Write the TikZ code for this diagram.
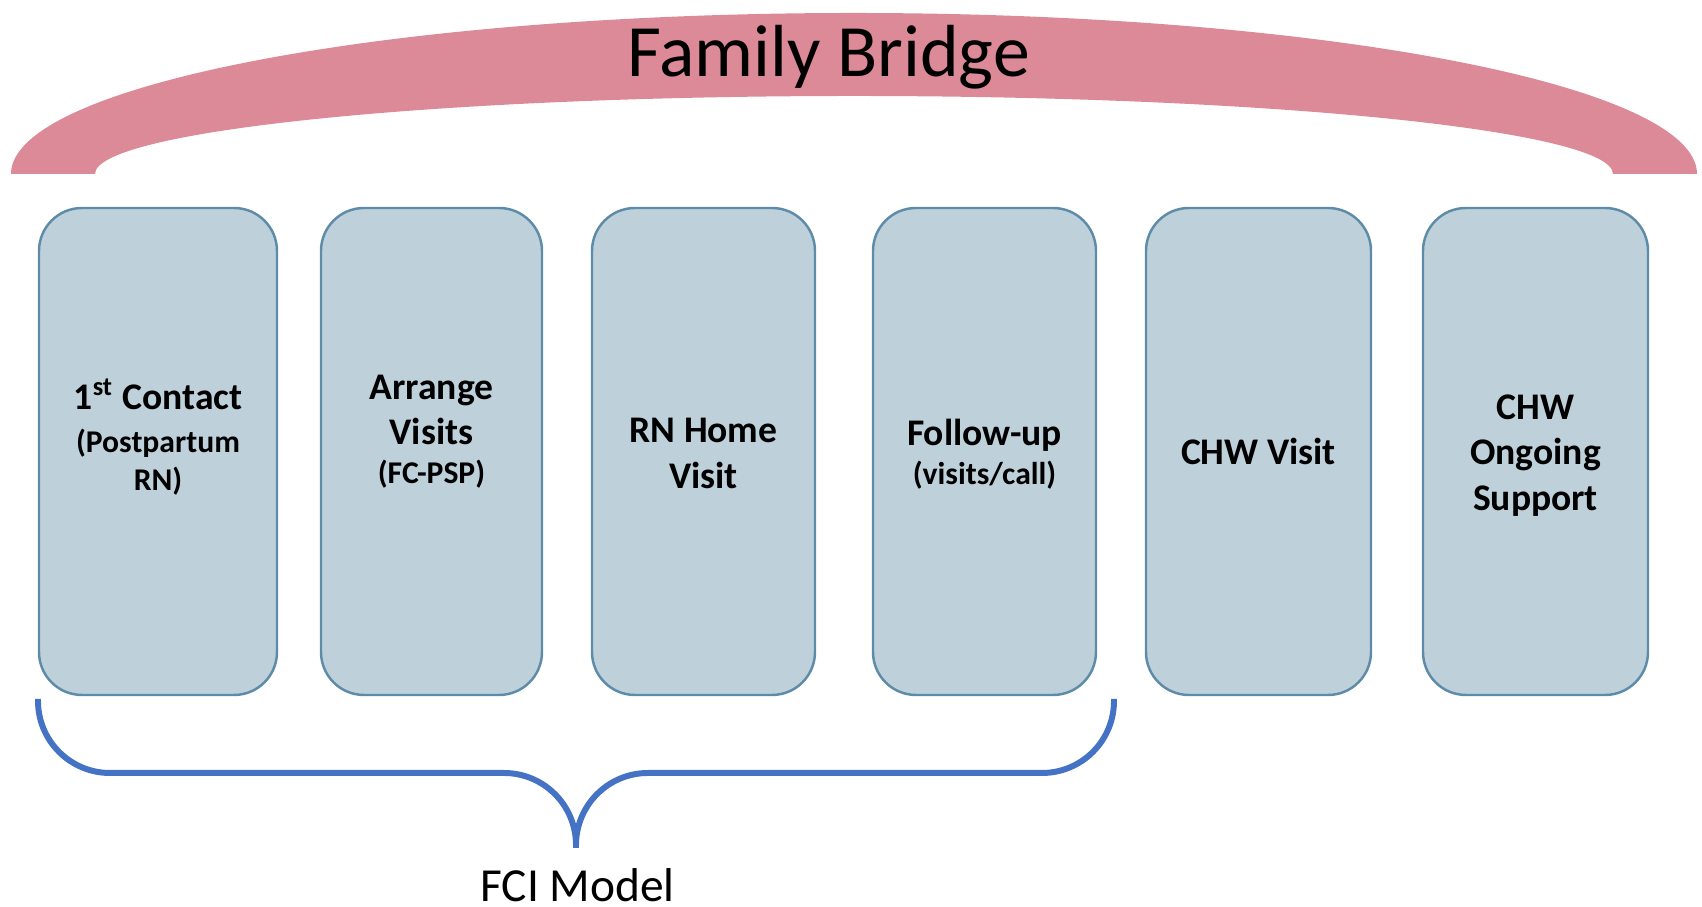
\documentclass[tikz,border=0pt]{standalone}
\usepackage{fontspec}
\setmainfont{Carlito}
\usepackage{tikz}
\usetikzlibrary{positioning}
\definecolor{bridgepink}{RGB}{221,138,152}
\definecolor{stagefill}{RGB}{190,209,219}
\definecolor{stageline}{RGB}{94,140,168}
\definecolor{braceblue}{RGB}{68,114,196}
\tikzstyle{stage} = [rectangle, rounded corners=0.43cm, minimum
    width=2.23cm, minimum height=4.87cm, draw=stageline, fill=stagefill,
line width=0.7pt]
\tikzstyle{stagetext} = [align=center, inner sep=0pt,
font=\bfseries\fontsize{10.7}{13}\selectfont]
\tikzstyle{brace} = [draw=braceblue, line width=1.7pt, rounded corners=0.72cm]
\newcommand{\smalltag}[1]{{\fontsize{9}{11}\selectfont #1}}

\begin{document}
\begin{tikzpicture}
            \useasboundingbox (0,0) rectangle (17.02,9.07);
            % Bridge
            \fill[bridgepink] (0.11,7.33) arc[start angle=180, end angle=0,
            x radius=8.43cm, y radius=1.61cm] -- (16.13,7.33) arc[start
            angle=0, end angle=180, x radius=7.59cm, y radius=0.78cm] -- cycle;
            \node[anchor=base, font=\fontsize{21}{25}\selectfont] (bridge)
            at (8.285,8.30) {Family Bridge};
            % Stages
            \node[stage, minimum width=2.38cm] (contact) at (1.58,4.555) {};
            \node[stage, minimum width=2.21cm, right of=contact, xshift=1.735cm] (arrange) {};
            \node[stage, right of=arrange, xshift=1.72cm] (rnvisit) {};
            \node[stage, right of=rnvisit, xshift=1.81cm] (followup) {};
            \node[stage, minimum width=2.25cm, right of=followup, xshift=1.74cm] (chwvisit) {};
            \node[stage, minimum width=2.25cm, right of=chwvisit, xshift=1.77cm] (chwsupport) {};
            % Stage texts
            \node[stagetext] (contact-text) at ([yshift=0.14cm]contact.center)
            {1\textsuperscript{st} Contact\\[-1pt] \smalltag{(Postpartum}\\[-2pt]
            \smalltag{RN)}};
            \node[stagetext] (arrange-text) at ([yshift=0.2cm]arrange.center)
            {Arrange\\ Visits\\[-2pt] \smalltag{(FC-PSP)}};
            \node[stagetext] (rnvisit-text) at ([yshift=-0.02cm]rnvisit.center)
            {RN Home\\ Visit};
            \node[stagetext] (followup-text) at ([yshift=-0.03cm]followup.center)
            {Follow-up\\[-2pt] \smalltag{(visits/call)}};
            \node[stagetext] (chwvisit-text) at (chwvisit.center) {CHW Visit};
            \node[stagetext] (chwsupport-text) at ([yshift=-0.04cm]chwsupport.center)
            {CHW\\ Ongoing\\ Support};
            % FCI brace
            \draw[brace] (0.38,2.08) -- (0.38,1.34) -- (5.76,1.34) -- (5.76,0.59);
            \draw[brace] (11.14,2.08) -- (11.14,1.34) -- (5.76,1.34) -- (5.76,0.59);
            \node[anchor=base, inner sep=0pt, font=\fontsize{13.5}{16}\selectfont]
            (model) at (5.775,0.05) {FCI Model};
        \end{tikzpicture}
\end{document}
